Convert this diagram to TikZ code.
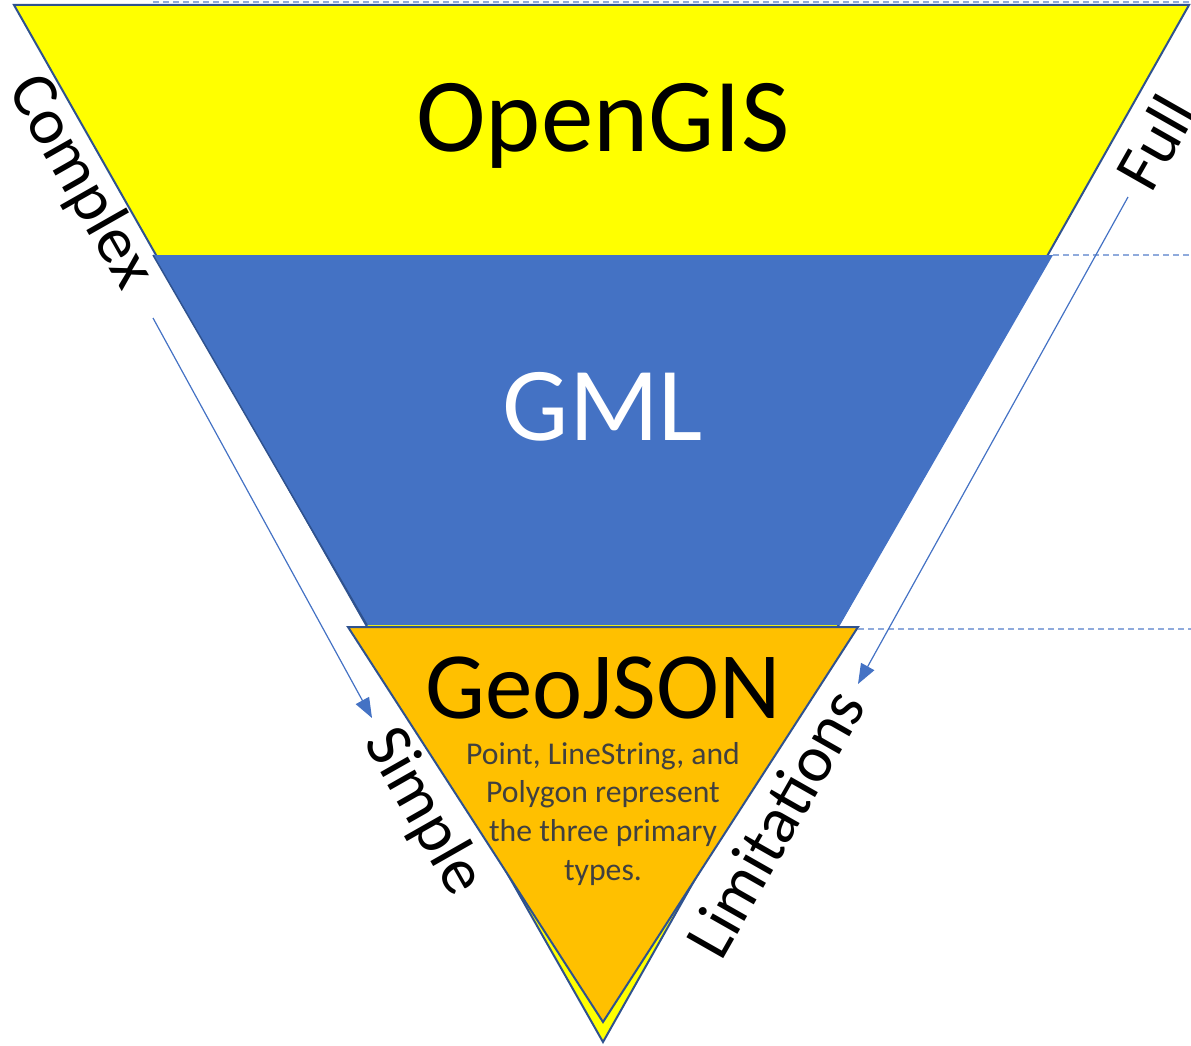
\documentclass[tikz,border=0pt]{standalone}
\usepackage{fontspec}
\setmainfont{Carlito}
\usepackage{tikz}
\usetikzlibrary{arrows.meta}
\usepackage{xcolor}
\definecolor{gisyellow}{HTML}{FFFF00}
\definecolor{gmlblue}{HTML}{4472C4}
\definecolor{geoorange}{HTML}{FFC000}
\definecolor{rimblue}{HTML}{2F528F}
\definecolor{guideblue}{HTML}{8FAADC}
\definecolor{notegray}{HTML}{404040}

\begin{document}
\begin{tikzpicture}[x=1pt,y=-1pt,
    layer/.style={draw=rimblue, line width=2pt, line join=miter},
    guide/.style={guideblue, line width=1.3pt, dash pattern=on 6pt off 4pt},
    trend/.style={gmlblue, line width=1.2pt, -{Triangle[length=20pt,width=15pt]}},
    sidelabel/.style={inner sep=0pt, font=\fontsize{66}{66}\selectfont}]
    \useasboundingbox (0,0) rectangle (1191,1046);

    % Layers
    \draw[layer, fill=gisyellow] (14,5) -- (1189,5) -- (603,1042) -- cycle;
    \fill[gmlblue] (153,255) -- (1053,255) -- (840,625) -- (367,625) -- cycle;
    \draw[rimblue, line width=1.5pt] (153,255) -- (367,625);
    \draw[layer, fill=geoorange] (348,627) -- (858,627) -- (603,1022) -- cycle;

    % Guide lines
    \draw[guide] (153,2) -- (1191,2);
    \draw[guide] (1053,255) -- (1191,255);
    \draw[guide] (858,629) -- (1191,629);

    % Layer names
    \node[anchor=base, inner sep=0pt, font=\fontsize{105}{105}\selectfont] (opengis) at (603,151) {OpenGIS};
    \node[anchor=base, inner sep=0pt, text=white, font=\fontsize{105}{105}\selectfont] (gml) at (603,440) {GML};
    \node[anchor=base, inner sep=0pt, font=\fontsize{95}{95}\selectfont] (geojson) at (603,718) {GeoJSON};
    \node[anchor=north, inner sep=0pt, text=notegray, align=center,
        font=\fontsize{31.7}{38.7}\selectfont] (types) at (603,742)
        {Point, LineString, and\\Polygon represent\\the three primary\\types.};

    % Side labels
    \node[sidelabel, rotate=-60.4] (complex) at (80,182) {Complex};
    \node[sidelabel, rotate=-60.4] (simple) at (423,812) {Simple};
    \node[sidelabel, rotate=60.4] (full) at (1155,142) {Full};
    \node[sidelabel, rotate=60.4] (limits) at (775,823) {Limitations};

    % Arrows
    \coordinate (complexstart) at (153,318);
    \coordinate (simpleend) at (372,718);
    \coordinate (fullstart) at (1128,197);
    \coordinate (limitsend) at (858,684);
    \draw[trend] (complexstart) -- (simpleend);
    \draw[trend] (fullstart) -- (limitsend);
\end{tikzpicture}
\end{document}
